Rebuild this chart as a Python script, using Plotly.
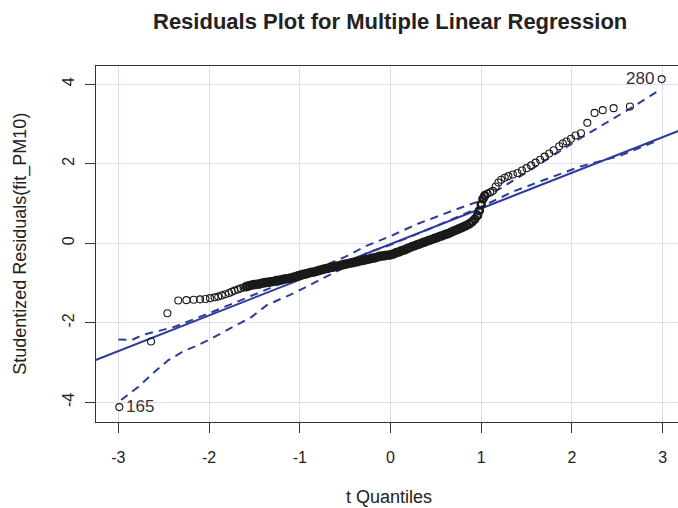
import plotly.graph_objects as go

# ---- data ----
# theoretical t quantiles (x) and sorted studentized residuals (y)
t_quantiles = [
    -2.99, -2.64, -2.46, -2.34, -2.25, -2.17, -2.10, -2.04, -1.99, -1.94,
    -1.90, -1.86, -1.82, -1.78, -1.75, -1.72, -1.68, -1.65, -1.62, -1.59,
    -1.56, -1.53,
    -1.50, -1.47, -1.44, -1.41, -1.38, -1.35, -1.32, -1.29, -1.26, -1.23,
    -1.20, -1.17, -1.14, -1.11, -1.08, -1.05, -1.02, -0.99, -0.96, -0.93,
    -0.90, -0.87, -0.84, -0.81, -0.78, -0.75, -0.72, -0.69, -0.66, -0.63,
    -0.60, -0.57, -0.54, -0.51, -0.48, -0.45, -0.42, -0.39, -0.36, -0.33,
    -0.30, -0.27, -0.24, -0.21, -0.18, -0.15, -0.12, -0.09, -0.06, -0.03,
    0.00, 0.03, 0.06, 0.09, 0.12, 0.15, 0.18, 0.21, 0.24, 0.27,
    0.30, 0.33, 0.36, 0.39, 0.42, 0.45, 0.48, 0.51, 0.54, 0.57,
    0.60, 0.63, 0.66, 0.69, 0.72, 0.75, 0.78, 0.81, 0.84, 0.87,
    0.90, 0.93, 0.96, 0.98, 1.00, 1.02, 1.04, 1.07, 1.10, 1.13,
    1.16, 1.19, 1.22, 1.26, 1.30, 1.35, 1.40, 1.45, 1.50, 1.55,
    1.60, 1.65, 1.70, 1.75, 1.80, 1.86, 1.90, 1.94, 1.99, 2.04,
    2.10, 2.17, 2.25, 2.34, 2.46, 2.64, 2.99,
]
stud_residuals = [
    -4.12, -2.47, -1.76, -1.44, -1.43, -1.42, -1.41, -1.40, -1.38, -1.36,
    -1.34, -1.31, -1.28, -1.25, -1.22, -1.19, -1.16, -1.13, -1.11, -1.09,
    -1.07, -1.05,
    -1.04, -1.03, -1.02, -1.00, -0.99, -0.98, -0.97, -0.96, -0.94, -0.93,
    -0.92, -0.90, -0.89, -0.88, -0.86, -0.84, -0.82, -0.80, -0.78, -0.77,
    -0.75, -0.73, -0.72, -0.70, -0.68, -0.66, -0.64, -0.63, -0.61, -0.60,
    -0.58, -0.57, -0.55, -0.53, -0.52, -0.50, -0.49, -0.47, -0.46, -0.44,
    -0.43, -0.41, -0.40, -0.38, -0.37, -0.35, -0.33, -0.32, -0.31, -0.30,
    -0.29, -0.27, -0.24, -0.22, -0.19, -0.17, -0.14, -0.11, -0.08, -0.06,
    -0.03, -0.01, 0.02, 0.04, 0.07, 0.09, 0.12, 0.14, 0.17, 0.19,
    0.22, 0.24, 0.27, 0.30, 0.33, 0.36, 0.39, 0.42, 0.45, 0.49,
    0.54, 0.61, 0.70, 0.82, 0.98, 1.12, 1.20, 1.25, 1.28, 1.32,
    1.43, 1.53, 1.60, 1.65, 1.69, 1.73, 1.77, 1.83, 1.89, 1.96,
    2.03, 2.10, 2.18, 2.26, 2.34, 2.44, 2.51, 2.56, 2.63, 2.71,
    2.77, 3.03, 3.28, 3.35, 3.40, 3.44, 4.13,
]

# robust reference line (end points)
line_x = [-3.30, 3.30]
line_y = [-2.98, 2.94]

# confidence envelope (dashed)
upper_x = [-3.00, -2.85, -2.74, -2.56, -2.38, -2.00, -1.50, -1.00, -0.50,
           -0.26, 0.00, 0.29, 0.66, 0.99, 1.54, 2.09, 2.68, 2.95]
upper_y = [-2.42, -2.43, -2.31, -2.20, -2.10, -1.76, -1.30, -0.82, -0.34,
           -0.06, 0.18, 0.48, 0.80, 1.07, 1.84, 2.64, 3.44, 3.83]
lower_x = [-2.97, -2.78, -2.60, -2.45, -2.27, -2.16, -1.97, -1.71, -1.53,
           -1.36, -1.07, -0.78, -0.56, -0.26, 0.00, 0.50, 1.00, 1.35,
           2.09, 2.53, 2.92]
lower_y = [-3.94, -3.61, -3.23, -2.94, -2.70, -2.60, -2.39, -2.06, -1.85,
           -1.55, -1.26, -0.92, -0.67, -0.24, -0.04, 0.43, 0.92, 1.30,
           1.93, 2.20, 2.56]

outlier_ids = ["165", "280"]
outlier_x = [-2.99, 2.99]
outlier_y = [-4.12, 4.13]

x_ticks = [-3, -2, -1, 0, 1, 2, 3]
y_ticks = [-4, -2, 0, 2, 4]

title_text = "Residuals Plot for Multiple Linear Regression"
x_title = "t Quantiles"
y_title = "Studentized Residuals(fit_PM10)"

# ---- figure ----
BLUE = "#2c3c98"
FONT = "Liberation Sans, Arial, sans-serif"

# where the real points are too dense to separate, they overlap into a solid band
ring_width = [2.6 if -1.6 < xv < 1.05 else 1.1 for xv in t_quantiles]

fig = go.Figure()
fig.add_trace(go.Scatter(x=line_x, y=line_y, mode="lines",
                         line=dict(color=BLUE, width=2), hoverinfo="skip"))
fig.add_trace(go.Scatter(x=upper_x, y=upper_y, mode="lines",
                         line=dict(color=BLUE, width=2, dash="8px,6px"),
                         hoverinfo="skip"))
fig.add_trace(go.Scatter(x=lower_x, y=lower_y, mode="lines",
                         line=dict(color=BLUE, width=2, dash="8px,6px"),
                         hoverinfo="skip"))
fig.add_trace(go.Scatter(x=t_quantiles, y=stud_residuals, mode="markers",
                         marker=dict(symbol="circle-open", size=7,
                                     color="#1a1a1a",
                                     line=dict(width=ring_width))))

for lab, xv, yv in zip(outlier_ids, outlier_x, outlier_y):
    right = xv > 0
    fig.add_annotation(x=xv, y=yv, text=lab, showarrow=False,
                       xanchor="right" if right else "left",
                       xshift=-6 if right else 5, yshift=1,
                       font=dict(family=FONT, size=17, color="#333333"))

axis_common = dict(showline=True, linecolor="#333333", linewidth=1.2,
                   ticks="outside", ticklen=10, tickwidth=1.2, tickcolor="#333333",
                   showgrid=True, gridcolor="rgba(205,190,225,0.55)", gridwidth=1,
                   zeroline=False,
                   tickfont=dict(family=FONT, size=16, color="#222222"))

fig.update_xaxes(range=[-3.247, 3.170], tickvals=x_ticks,
                 ticktext=[str(v) for v in x_ticks], mirror=True,
                 ticklabelstandoff=11, **axis_common)
fig.update_yaxes(range=[-4.495, 4.46], tickvals=y_ticks,
                 ticktext=[str(v) for v in y_ticks], tickangle=-90,
                 ticklabelstandoff=5, **axis_common)

fig.add_annotation(xref="paper", yref="paper", x=0.505, y=1.124,
                   text="<b>" + title_text + "</b>", showarrow=False,
                   xanchor="center", yanchor="middle",
                   font=dict(family=FONT, size=22, color="#222222"))
fig.add_annotation(xref="paper", yref="paper", x=0.503, y=-0.211,
                   text=x_title, showarrow=False, xanchor="center", yanchor="middle",
                   font=dict(family=FONT, size=18, color="#222222"))
fig.add_annotation(xref="paper", yref="paper", x=-0.131, y=0.5,
                   text=y_title, showarrow=False, textangle=-90,
                   xanchor="center", yanchor="middle",
                   font=dict(family=FONT, size=18, color="#222222"))

fig.update_layout(width=678, height=508, showlegend=False,
                  margin=dict(l=96, r=0, t=66, b=86),
                  paper_bgcolor="white", plot_bgcolor="white")

fig.write_html("out.html",
               config={"displayModeBar": False},
               post_script="document.body.style.margin='0';"
                           "document.body.style.overflow='hidden';")
